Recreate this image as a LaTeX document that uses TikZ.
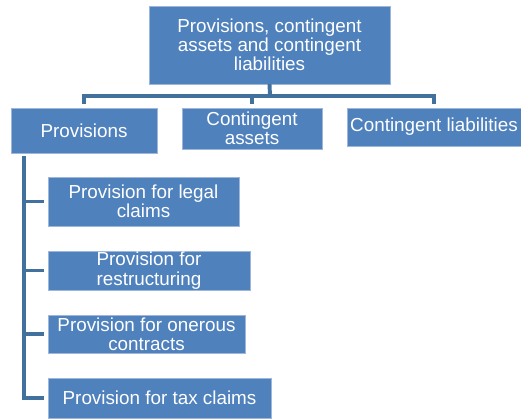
\documentclass[tikz,border=0pt]{standalone}
\usepackage{fontspec}
\setmainfont{Liberation Sans}
\usepackage{tikz}
\usetikzlibrary{positioning}

\definecolor{boxblue}{HTML}{4F81BD}
\definecolor{boxedge}{HTML}{9DB6DA}
\definecolor{linkblue}{HTML}{41719C}

\tikzset{
  box/.style={rectangle, fill=boxblue, draw=boxedge, line width=0.4pt, text=white,
    align=center, inner sep=0pt, font=\fontsize{13.4}{13.7}\selectfont},
  link/.style={draw=linkblue, line width=2.8pt}
}

\begin{document}
\begin{tikzpicture}[every node/.style={outer sep=0pt}]
    \useasboundingbox (0,0) rectangle (13.025,-10.45);
    % top level
    \node (top) [box, minimum width=6.025cm, minimum height=1.95cm] at (6.7375,-1.125)
        {Provisions, contingent\\assets and contingent\\liabilities};
    % second level
    \node (prov) [box, minimum width=3.65cm, minimum height=1.125cm] at (2.1,-3.2625) {Provisions};
    \node (cass) [box, minimum width=3.5cm, minimum height=1.025cm] at (6.3,-3.2125) {Contingent\\assets};
    \node (clia) [box, minimum width=4.35cm, minimum height=0.95cm] at (10.85,-3.175) {Contingent liabilities};
    % kinds of provisions
    \node (legal) [box, minimum width=4.775cm, minimum height=1.225cm] at (3.5875,-5.0375) {Provision for legal\\claims};
    \node (restr) [box, minimum width=5.05cm, minimum height=0.975cm] at (3.725,-6.7625) {Provision for\\restructuring};
    \node (oner) [box, minimum width=4.925cm, minimum height=0.95cm] at (3.6625,-8.35) {Provision for onerous\\contracts};
    \node (tax) [box, minimum width=5.575cm, minimum height=1.0cm] at (3.9875,-9.95) {Provision for tax claims};
    % connectors
    \coordinate (bus) at (6.75,-2.4);
    \coordinate (rail) at (0.6,-3.9);
    \draw [link] (top.south) -- (bus);
    \foreach \n in {prov,cass,clia}
        \draw [link, shorten >=0.1cm] (bus) -| (\n.north);
    \draw [link] (rail) |- ([xshift=-0.1cm]tax.west);
    \foreach \n in {legal,restr,oner}
        \draw [link, shorten >=0.1cm] (rail |- \n.west) -- (\n.west);
\end{tikzpicture}
\end{document}
